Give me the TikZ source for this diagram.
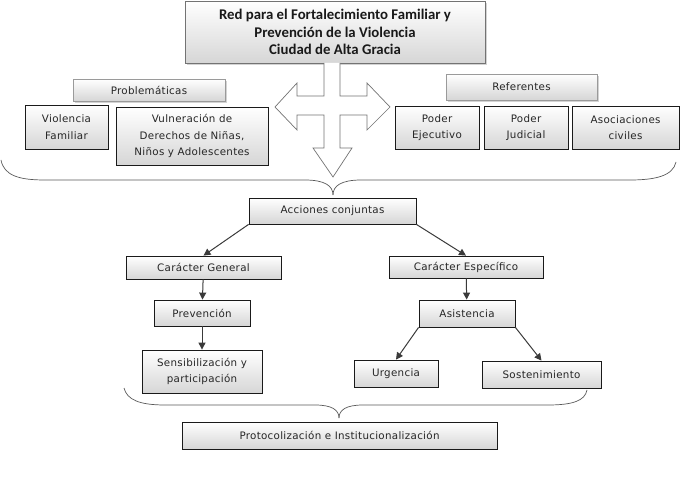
\documentclass[tikz,border=0pt]{standalone}
\usepackage{fontspec}
\setmainfont[LetterSpace=3]{DejaVu Sans}
\newfontfamily\titlefont{Carlito}
\usetikzlibrary{shadows,arrows.meta}
\definecolor{boxline}{HTML}{1A1A1A}
\definecolor{softline}{HTML}{9A9A9A}
\definecolor{shadegray}{HTML}{D6D6D6}
\definecolor{arrowgray}{HTML}{3A3A3A}

\tikzset{
  box/.style={draw=boxline, line width=0.8pt, top color=white, bottom color=shadegray,
    inner sep=0pt, align=center, text=black!85, font=\fontsize{10.3}{16.5}\selectfont},
  headbox/.style={box, draw=softline,
    drop shadow={opacity=0.35, shadow xshift=2pt, shadow yshift=-2.5pt}},
  flow/.style={draw=arrowgray, line width=1pt, -{Triangle[length=7pt,width=7pt]}},
  brace/.style={draw=black!65, line width=0.7pt}
}

\begin{document}
\begin{tikzpicture}[x=1pt, y=-1pt]
\useasboundingbox (0,0) rectangle (696,486);

% Title
\node[headbox, draw=black!55, minimum width=300pt, minimum height=62pt,
  font=\titlefont\bfseries\fontsize{14.8}{17.5}\selectfont, text=black!90]
  (red) at (335,32) {Red para el Fortalecimiento Familiar y\\Prevenci\'on de la Violencia\\Ciudad de Alta Gracia};

% Cross arrow
\draw[draw=black!55, fill=white, line width=0.7pt]
  (324,63) -- (324,96) -- (297,96) -- (297,83) -- (275,107) -- (297,130) -- (297,115)
  -- (324,115) -- (324,148) -- (313,148) -- (333,177) -- (352,148) -- (340,148)
  -- (340,115) -- (367,115) -- (367,130) -- (390,107) -- (367,83) -- (367,96)
  -- (340,96) -- (340,63);

% Problematicas
\node[headbox, minimum width=152pt, minimum height=22pt] (probl) at (149,90) {Problem\'aticas};
\node[box, minimum width=83pt, minimum height=44pt] (violencia) at (66.5,127) {Violencia\\Familiar};
\node[box, minimum width=152pt, minimum height=58pt] (vulneracion) at (192,136) {Vulneraci\'on de\\Derechos de Ni\~nas,\\Ni\~nos y Adolescentes};

% Referentes
\node[headbox, minimum width=151pt, minimum height=26pt] (refer) at (521.5,87) {Referentes};
\node[box, minimum width=84pt, minimum height=43pt] (ejecutivo) at (437,127.5) {Poder\\Ejecutivo};
\node[box, minimum width=84pt, minimum height=43pt] (judicial) at (526,127.5) {Poder\\Judicial};
\node[box, minimum width=107pt, minimum height=43pt] (asociaciones) at (625.5,127.5) {Asociaciones\\civiles};

% Upper brace
\draw[brace] (1,160) .. controls (4,176) and (20,180) .. (45,180) -- (305,180)
  .. controls (325,180) and (333,186) .. (333,195);
\draw[brace] (676,162) .. controls (673,176) and (655,180) .. (630,180) -- (361,180)
  .. controls (341,180) and (333,186) .. (333,195);

% Acciones
\node[box, minimum width=167pt, minimum height=26pt] (acciones) at (332.5,211) {Acciones conjuntas};
\node[box, minimum width=155pt, minimum height=23pt] (general) at (203.5,267.5) {Car\'acter General};
\node[box, minimum width=154pt, minimum height=22pt] (especifico) at (466,267) {Car\'acter Espec\'ifico};
\node[box, minimum width=96pt, minimum height=26pt] (prevencion) at (202,313) {Prevenci\'on};
\node[box, minimum width=120pt, minimum height=43pt] (sensibilizacion) at (202,371.5) {Sensibilizaci\'on y\\participaci\'on};
\node[box, minimum width=96pt, minimum height=27pt] (asistencia) at (467,313.5) {Asistencia};
\node[box, minimum width=84pt, minimum height=27pt] (urgencia) at (396,373.5) {Urgencia};
\node[box, minimum width=119pt, minimum height=27pt] (sostenimiento) at (541.5,374.5) {Sostenimiento};

\draw[flow] (acciones.south west) -- (general.north);
\draw[flow] (acciones.south east) -- (especifico.north);
\draw[flow] (general) -- (prevencion);
\draw[flow] (prevencion) -- (sensibilizacion);
\draw[flow] (especifico) -- (asistencia);
\draw[flow] (asistencia.south west) -- (urgencia.north);
\draw[flow] (asistencia.south east) -- (sostenimiento.north);

% Lower brace
\draw[brace] (124,388) .. controls (127,400) and (140,405) .. (165,405) -- (315,405)
  .. controls (332,405) and (339,410) .. (339,418);
\draw[brace] (587,390) .. controls (585,401) and (572,405) .. (548,405) -- (363,405)
  .. controls (346,405) and (339,410) .. (339,418);

\node[box, minimum width=315pt, minimum height=27pt] (protocolo) at (339.5,435.5) {Protocolizaci\'on e Institucionalizaci\'on};
\end{tikzpicture}
\end{document}
